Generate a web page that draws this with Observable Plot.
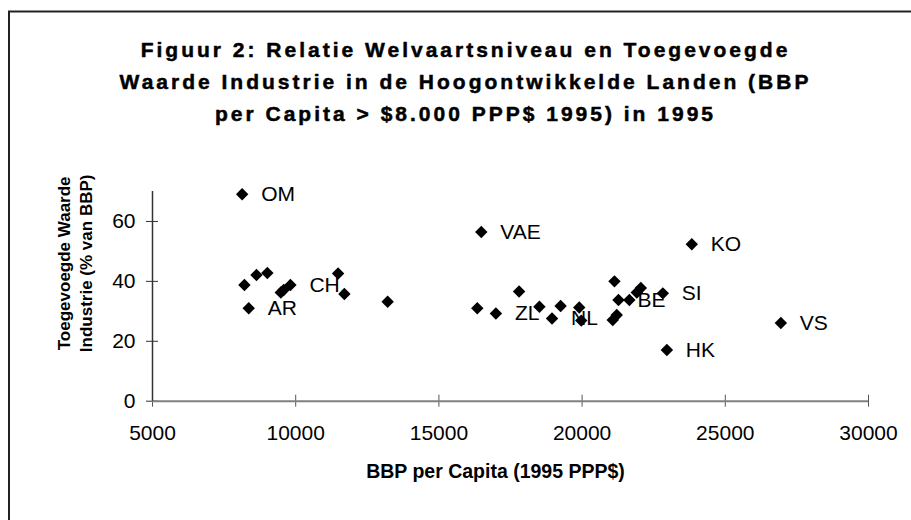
<!DOCTYPE html>
<html>
<head>
<meta charset="utf-8">
<script src="https://cdn.jsdelivr.net/npm/d3@7"></script>
<script src="https://cdn.jsdelivr.net/npm/@observablehq/plot@0.6"></script>
<style>
  html, body { margin: 0; padding: 0; background: #fff; }
  #chart { width: 911px; height: 520px; overflow: hidden; }
</style>
</head>
<body>
<div id="chart"></div>
<script>
// BBP per capita (1995 PPP$)
const gdp = [8130, 8210, 8630, 9010, 8360, 9480, 9580, 9815, 11480, 11700, 13210,
             16480, 16340, 16990, 17800, 18510, 18950, 19250, 19900, 19970,
             21130, 21270, 21070, 21210, 21650, 22050, 21910, 22820, 23830, 22960, 26940];
// Toegevoegde waarde industrie (% van BBP)
const industry = [69.1, 38.8, 42.1, 42.8, 31.0, 36.3, 37.1, 38.8, 42.6, 35.8, 33.2,
                  56.5, 31.0, 29.3, 36.6, 31.5, 27.6, 31.8, 31.3, 26.9,
                  40.0, 33.8, 27.1, 28.8, 33.8, 37.8, 36.3, 36.0, 52.4, 17.1, 26.1];
// Landcodes (leeg = geen label)
const labels = ["OM", "", "", "", "AR", "", "", "CH", "", "", "",
                "VAE", "", "ZL", "", "", "NL", "", "", "",
                "", "BE", "", "", "", "", "", "SI", "KO", "HK", "VS"];
const xTicks = [5000, 10000, 15000, 20000, 25000, 30000];
const yTicks = [0, 20, 40, 60];
const titleText = "Figuur 2: Relatie Welvaartsniveau en Toegevoegde\nWaarde Industrie in de Hoogontwikkelde Landen (BBP\nper Capita > $8.000 PPP$ 1995) in 1995";
const xTitle = "BBP per Capita (1995 PPP$)";
const yTitle = "Toegevoegde Waarde\nIndustrie (% van BBP)";

const data = gdp.map((g, i) => ({x: g, y: industry[i], label: labels[i]}));

const font = "'Liberation Sans', Arial, sans-serif";

const chart = Plot.plot({
  width: 911,
  height: 520,
  marginLeft: 152,
  marginRight: 43,
  marginTop: 191,
  marginBottom: 119.3,
  style: {fontFamily: font, fontSize: "21px", color: "#000", background: "#fff", overflow: "visible"},
  x: {domain: [5000, 30000], axis: null},
  y: {domain: [0, 70], axis: null},
  marks: [
    Plot.axisY({ticks: yTicks, tickSize: 12, dx: 6, tickPadding: 11, label: null, stroke: "#333", fontSize: 21, tickFormat: d3.format("d")}),
    Plot.axisX({ticks: xTicks, tickSize: 12, dy: -6, tickPadding: 18, label: null, stroke: "#555", fontSize: 21, tickFormat: d3.format("d")}),
    Plot.ruleY([0], {stroke: "#808080", strokeWidth: 2}),
    Plot.ruleX([5000], {stroke: "#333", strokeWidth: 1.5}),
    Plot.dot(data, {x: "x", y: "y", symbol: "diamond2", r: 5.6, fill: "#000", stroke: "none"}),
    Plot.text(data.filter(d => d.label), {x: "x", y: "y", text: "label", dx: 19, textAnchor: "start", fontSize: 21, fill: "#000"}),
    Plot.text([titleText], {frameAnchor: "top", textAnchor: "middle", dx: -45, dy: -113, lineAnchor: "middle", lineHeight: 1.52, fontSize: 21, fontWeight: "bold", fill: "#000", stroke: "#000", strokeWidth: 0.5}),
    Plot.text([xTitle], {frameAnchor: "bottom", textAnchor: "middle", dx: -15, dy: 71, lineAnchor: "middle", fontSize: 19.5, fontWeight: "bold", fill: "#000"}),
    Plot.text([yTitle], {frameAnchor: "left", textAnchor: "middle", dx: -79, dy: -33, rotate: -90, lineAnchor: "middle", lineHeight: 1.3, fontSize: 17, fontWeight: "bold", fill: "#000"})
  ]
});

document.getElementById("chart").appendChild(chart);
// chart border (extends beyond right and bottom edges as in the reference)
d3.select(chart).insert("rect", ":first-child")
  .attr("x", 9).attr("y", 11.5).attr("width", 1200).attr("height", 1200)
  .attr("fill", "none").attr("stroke", "#222").attr("stroke-width", 2);
// title letter spacing
d3.select(chart).selectAll("g[aria-label='text']").filter((d, i) => i === 1).style("letter-spacing", "3px");
</script>
</body>
</html>
